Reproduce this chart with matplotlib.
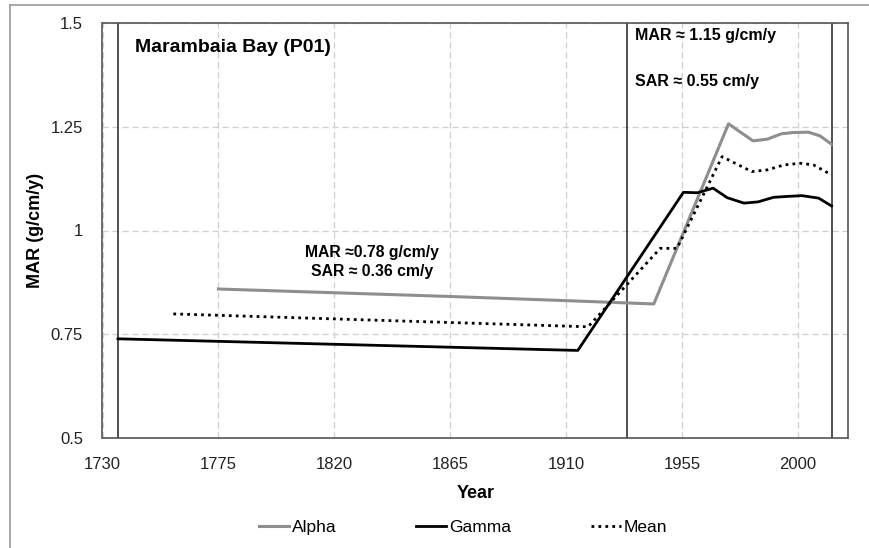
import matplotlib
matplotlib.use("Agg")
import matplotlib.pyplot as plt
from matplotlib.lines import Line2D

# Sediment mass accumulation rate, core P01
alpha_year = [1775, 1820, 1865, 1910, 1944, 1973, 1982.5, 1988, 1993.5, 1998, 2004, 2008.5, 2013]
alpha_mar = [0.859, 0.850, 0.841, 0.831, 0.823, 1.257, 1.216, 1.220, 1.233, 1.236, 1.237, 1.228, 1.208]

gamma_year = [1736, 1914.5, 1955.5, 1961, 1967, 1972.5, 1979, 1984.5, 1990.5, 1995.5, 2001.5, 2008, 2013]
gamma_mar = [0.739, 0.711, 1.092, 1.091, 1.102, 1.079, 1.066, 1.069, 1.080, 1.082, 1.084, 1.078, 1.059]

mean_year = [1757.5, 1918.5, 1946.5, 1953, 1970.5, 1982, 1988, 1994.5, 2001, 2006, 2013]
mean_mar = [0.799, 0.768, 0.957, 0.957, 1.178, 1.142, 1.146, 1.158, 1.162, 1.158, 1.134]

# dating boundaries
boundary_years = [1736, 1933.5, 2013]

x_ticks = [1730, 1775, 1820, 1865, 1910, 1955, 2000]
y_ticks = [0.5, 0.75, 1.0, 1.25, 1.5]
y_labels = ["0.5", "0.75", "1", "1.25", "1.5"]

plt.rcParams['font.family'] = ['Liberation Sans', 'DejaVu Sans']

fig = plt.figure(figsize=(8.7, 5.48), dpi=100)
ax = fig.add_axes([102.5 / 870, 1 - 438 / 548, 745.8 / 870, 415 / 548])

ax.plot(alpha_year, alpha_mar, color='#8e8e8e', lw=2.2, label='Alpha', zorder=3)
ax.plot(gamma_year, gamma_mar, color='black', lw=2.0, label='Gamma', zorder=4)
ax.plot(mean_year, mean_mar, color='black', lw=2.0, ls=(0, (1, 1.5)), label='Mean', zorder=4)

for yr in boundary_years:
    ax.axvline(yr, color='#222222', lw=1.1, zorder=2)

ax.set_xlim(1730, 2019.5)
ax.set_ylim(0.5, 1.5)
ax.set_xticks(x_ticks)
ax.set_yticks(y_ticks)
ax.set_yticklabels(y_labels)
ax.tick_params(length=0, labelsize=12, colors='#222222')
ax.tick_params(axis='x', pad=14)
ax.tick_params(axis='y', pad=14)
ax.grid(True, color='#cfcfcf', lw=0.9, ls=(0, (5, 3)))
for s in ax.spines.values():
    s.set_color('#555555')
    s.set_linewidth(1.2)

ax.set_xlabel("Year", fontsize=13, fontweight='bold')
ax.set_ylabel("MAR (g/cm/y)", fontsize=13, fontweight='bold')
ax.xaxis.set_label_coords(0.5, -0.113)
ax.yaxis.set_label_coords(-0.078, 0.5)

ax.text(1742.6, 1.44, "Marambaia Bay (P01)", fontsize=14, fontweight='bold', va='center', ha='left')
ax.text(1936.7, 1.471, "MAR \u2248 1.15 g/cm/y", fontsize=11.5, fontweight='bold', va='center', ha='left')
ax.text(1936.7, 1.358, "SAR \u2248 0.55 cm/y", fontsize=11.5, fontweight='bold', va='center', ha='left')
ax.text(1834.6, 0.924, "MAR \u22480.78 g/cm/y\nSAR \u2248 0.36 cm/y", fontsize=11.3, fontweight='bold',
        va='center', ha='center', linespacing=1.3)

# legend below the axes
fig.legend(loc='center', bbox_to_anchor=(463 / 870, 1 - 527 / 548), ncol=3, frameon=False,
           fontsize=12.5, handlelength=1.75, handletextpad=0.15, columnspacing=4.6)

# outer frame, left and top edges only
fig.add_artist(Line2D([10 / 870, 10 / 870], [0, 1 - 5 / 548], color='#999999', lw=1.2))
fig.add_artist(Line2D([10 / 870, 1], [1 - 5 / 548, 1 - 5 / 548], color='#999999', lw=1.2))

fig.savefig("out.png", dpi=100)
